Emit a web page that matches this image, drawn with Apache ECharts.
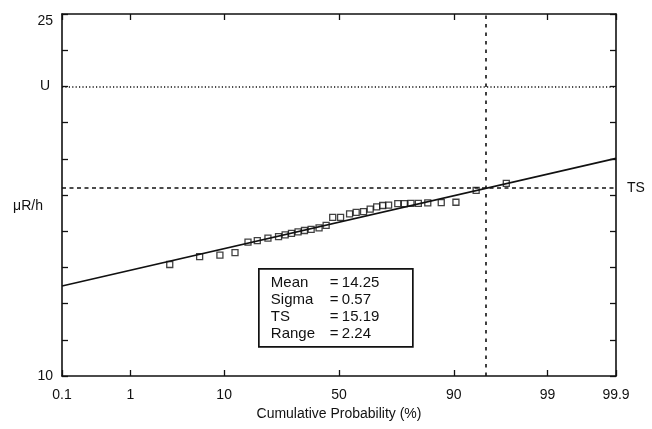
<!DOCTYPE html>
<html>
<head>
<meta charset="utf-8">
<script src="https://cdn.jsdelivr.net/npm/echarts@6/dist/echarts.min.js"></script>
<style>
  html, body { margin: 0; padding: 0; background: #fff; }
  #chart { width: 652px; height: 429px; }
</style>
</head>
<body>
<div id="chart"></div>
<script>
// Ranked readings plotted against their cumulative probability (%)
const cumProb = [2.95, 6.0, 9.2, 12.3, 15.5, 18.1, 21.4, 25.0, 27.4, 29.8, 32.4,
                 35.0, 37.8, 41.2, 44.3, 47.2, 50.7, 54.7, 57.6, 60.8, 63.6, 66.3,
                 68.7, 71.0, 74.4, 76.7, 78.9, 81.2, 83.9, 87.3, 90.4, 93.7, 96.9];
const readings = [13.08, 13.30, 13.34, 13.41, 13.70, 13.74, 13.81, 13.85, 13.90, 13.94, 13.98,
                  14.02, 14.05, 14.09, 14.16, 14.38, 14.38, 14.48, 14.52, 14.54, 14.61, 14.67,
                  14.71, 14.72, 14.76, 14.76, 14.77, 14.77, 14.78, 14.79, 14.80, 15.13, 15.32];

// Probability-axis ticks and their labels
const probTicks = [0.1, 1, 10, 50, 90, 99, 99.9];
const probTickLabels = ['0.1', '1', '10', '50', '90', '99', '99.9'];

// Dose-rate axis: range, step and the two printed end labels
const doseMin = 10, doseMax = 20, doseStep = 1;
const doseEndLabels = ['10', '25'];
const doseUnit = 'μR/h';

// Summary statistics of the fitted normal distribution
const statNames = ['Mean', 'Sigma', 'TS', 'Range'];
const statValues = [14.25, 0.57, 15.19, 2.24];

// Reference levels
const upperLevel = 18;      // "U"
const tsProbability = 95;   // percentile that defines TS

// Inverse of the standard normal CDF (Acklam's rational approximation)
function normInv(p) {
  const a = [-3.969683028665376e+01, 2.209460984245205e+02, -2.759285104469687e+02,
             1.383577518672690e+02, -3.066479806614716e+01, 2.506628277459239e+00];
  const b = [-5.447609879822406e+01, 1.615858368580409e+02, -1.556989798598866e+02,
             6.680131188771972e+01, -1.328068155288572e+01];
  const c = [-7.784894002430293e-03, -3.223964580411365e-01, -2.400758277161838e+00,
             -2.549732539343734e+00, 4.374664141464968e+00, 2.938163982698783e+00];
  const d = [7.784695709041462e-03, 3.224671290700398e-01, 2.445134137142996e+00,
             3.754408661907416e+00];
  const pl = 0.02425;
  let q, r;
  if (p < pl) {
    q = Math.sqrt(-2 * Math.log(p));
    return (((((c[0]*q+c[1])*q+c[2])*q+c[3])*q+c[4])*q+c[5]) /
           ((((d[0]*q+d[1])*q+d[2])*q+d[3])*q+1);
  }
  if (p > 1 - pl) {
    q = Math.sqrt(-2 * Math.log(1 - p));
    return -(((((c[0]*q+c[1])*q+c[2])*q+c[3])*q+c[4])*q+c[5]) /
            ((((d[0]*q+d[1])*q+d[2])*q+d[3])*q+1);
  }
  q = p - 0.5; r = q * q;
  return (((((a[0]*r+a[1])*r+a[2])*r+a[3])*r+a[4])*r+a[5])*q /
         (((((b[0]*r+b[1])*r+b[2])*r+b[3])*r+b[4])*r+1);
}
const probit = pct => normInv(pct / 100);

const zMin = probit(probTicks[0]);
const zMax = probit(probTicks[probTicks.length - 1]);
const tickZ = probTicks.map(probit);
const labelFor = v => {
  let best = 0;
  tickZ.forEach((z, i) => { if (Math.abs(z - v) < Math.abs(tickZ[best] - v)) best = i; });
  return probTickLabels[best];
};

const [mean, sigma, ts] = statValues;
const fitLine = [[zMin, mean + sigma * zMin], [zMax, mean + sigma * zMax]];
const points = cumProb.map((p, i) => [probit(p), readings[i]]);

const FONT = 'Liberation Sans, Arial, Helvetica, sans-serif';
const INK = '#111';
const frameLine = { show: true, onZero: false, lineStyle: { color: INK, width: 1.6 } };
const innerTick = { show: true, inside: true, length: 6, lineStyle: { color: INK, width: 1.3 } };

const chart = echarts.init(document.getElementById('chart'), null, { renderer: 'canvas' });

// Statistics panel
const statGroup = {
  type: 'group',
  left: 258,
  top: 268,
  children: [
    { type: 'rect', shape: { x: 0, y: 0, width: 154, height: 78 },
      style: { fill: '#fff', stroke: INK, lineWidth: 1.7 } }
  ].concat(statNames.flatMap((name, i) => {
    const y = 14.5 + i * 16.9;
    const common = { fill: INK, font: '15px ' + FONT, verticalAlign: 'middle' };
    return [
      { type: 'text', x: 12, y: y, style: Object.assign({ text: name }, common) },
      { type: 'text', x: 71, y: y, style: Object.assign({ text: '=' }, common) },
      { type: 'text', x: 83, y: y, style: Object.assign({ text: statValues[i].toFixed(2) }, common) }
    ];
  }))
};

// Unit caption beside the dose-rate axis
const unitCaption = {
  type: 'text', x: 28, y: 206,
  style: { text: doseUnit, fill: INK, font: '14px ' + FONT, align: 'center', verticalAlign: 'middle' }
};

chart.setOption({
  animation: false,
  backgroundColor: '#fff',
  grid: { left: 62, right: 36, top: 14, bottom: 53, containLabel: false },
  xAxis: [
    {
      type: 'value', position: 'bottom', min: zMin, max: zMax,
      axisLine: frameLine,
      axisTick: Object.assign({ customValues: tickZ }, innerTick),
      axisLabel: {
        customValues: tickZ, formatter: labelFor, margin: 12,
        color: INK, fontFamily: FONT, fontSize: 14
      },
      splitLine: { show: false },
      name: 'Cumulative Probability (%)', nameLocation: 'middle', nameGap: 31,
      nameTextStyle: { color: INK, fontFamily: FONT, fontSize: 14 }
    },
    {
      type: 'value', position: 'top', min: zMin, max: zMax,
      axisLine: frameLine,
      axisTick: Object.assign({ customValues: tickZ }, innerTick),
      axisLabel: { show: false },
      splitLine: { show: false }
    }
  ],
  yAxis: [
    {
      type: 'value', position: 'left', min: doseMin, max: doseMax, interval: doseStep,
      axisLine: frameLine, axisTick: innerTick,
      axisLabel: {
        formatter: v => v === doseMin ? doseEndLabels[0] : (v === doseMax ? doseEndLabels[1] : ''),
        margin: 9, color: INK, fontFamily: FONT, fontSize: 14,
        verticalAlignMaxLabel: 'top'
      },
      splitLine: { show: false }
    },
    {
      type: 'value', position: 'right', min: doseMin, max: doseMax, interval: doseStep,
      axisLine: frameLine, axisTick: innerTick,
      axisLabel: { show: false },
      splitLine: { show: false }
    }
  ],
  series: [
    {
      type: 'line', data: fitLine, symbol: 'none', silent: true, z: 3,
      lineStyle: { color: INK, width: 1.6 },
      markLine: {
        silent: true, symbol: ['none', 'none'], animation: false,
        data: [
          { yAxis: upperLevel,
            lineStyle: { color: INK, width: 1.5, type: [1.2, 2.2] },
            label: { show: true, position: 'start', formatter: 'U', distance: 12,
                     color: INK, fontFamily: FONT, fontSize: 14 } },
          { yAxis: ts,
            lineStyle: { color: INK, width: 1.6, type: [4, 3.5] },
            label: { show: true, position: 'end', formatter: 'TS', distance: 11,
                     color: INK, fontFamily: FONT, fontSize: 14 } },
          { xAxis: probit(tsProbability),
            lineStyle: { color: INK, width: 1.6, type: [3.5, 5] },
            label: { show: false } }
        ]
      }
    },
    {
      type: 'scatter', data: points, symbol: 'rect', symbolSize: 6, z: 2, silent: true,
      itemStyle: { color: 'rgba(255,255,255,0)', borderColor: INK, borderWidth: 1.3 }
    }
  ],
  graphic: [statGroup, unitCaption]
});
</script>
</body>
</html>
